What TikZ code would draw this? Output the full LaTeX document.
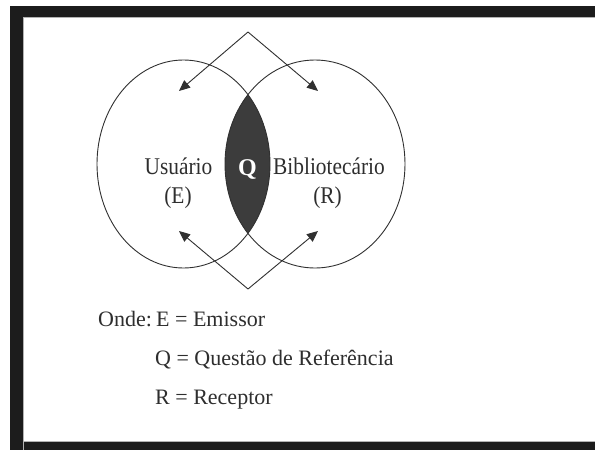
\documentclass[tikz,border=0pt]{standalone}
\usepackage{fontspec}
\setmainfont{Liberation Serif}
\newfontfamily\condfont[FakeStretch=0.89]{Liberation Serif}
\usetikzlibrary{arrows.meta}
\definecolor{txt}{HTML}{2E2E2E}
\definecolor{ln}{HTML}{303030}
\definecolor{frame}{HTML}{1C1C1C}
\definecolor{lens}{HTML}{3C3C3C}
\begin{document}
\begin{tikzpicture}[x=1pt,y=-1pt,
  lbl/.style={font=\fontsize{22}{26}\selectfont, text=txt, inner sep=0pt},
  vlbl/.style={font=\condfont\fontsize{24}{28}\selectfont, text=txt, inner sep=0pt},
  ring/.style={draw=ln, line width=0.9pt},
  arr/.style={draw=ln, line width=0.9pt, -{Triangle[length=11pt,width=9.5pt]}}]
\useasboundingbox (0,0) rectangle (595,450);
\fill[white] (0,0) rectangle (595,450);
% frame
\fill[frame] (10,6) rectangle (595,17);
\fill[frame] (10,6) rectangle (23,450);
\fill[frame] (10,442) rectangle (595,450);
\draw[gray!60, line width=0.8pt] (23.4,450) -- (23.4,17.4) -- (595,17.4);
\draw[gray!60, line width=0.8pt] (23.4,441.6) -- (595,441.6);
% lens
\begin{scope}
  \clip (183.5,164) ellipse [x radius=86.5pt, y radius=104pt];
  \fill[lens] (315,164) ellipse [x radius=90pt, y radius=104pt];
\end{scope}
% circles
\draw[ring] (183.5,164) ellipse [x radius=86.5pt, y radius=104pt];
\draw[ring] (315,164) ellipse [x radius=90pt, y radius=104pt];
% arrows
\coordinate (top) at (248,32);
\coordinate (bot) at (248,289);
\coordinate (tl) at (179,91);
\coordinate (tr) at (318,91);
\coordinate (bl) at (179,231);
\coordinate (br) at (318,231);
\draw[arr] (top) -- (tl);
\draw[arr] (top) -- (tr);
\draw[arr] (bot) -- (bl);
\draw[arr] (bot) -- (br);
% labels
\node[vlbl, anchor=base] (usu) at (178.5,174.5) {Usuário};
\node[vlbl, anchor=base] (e) at (178,203) {(E)};
\node[vlbl, anchor=base] (bib) at (329,174.5) {Bibliotecário};
\node[vlbl, anchor=base] (r) at (327.5,203) {(R)};
\node[lbl, anchor=base, text=white, font=\fontsize{24}{28}\selectfont\bfseries] (q) at (247.5,175) {Q};
% legend
\node[lbl, anchor=base west] (onde) at (98,326) {Onde:};
\node[lbl, anchor=base west] (le) at (156,326) {E = Emissor};
\node[lbl, anchor=base west] (lq) at (155,365) {Q = Questão de Referência};
\node[lbl, anchor=base west] (lr) at (155,404) {R = Receptor};
\end{tikzpicture}
\end{document}
